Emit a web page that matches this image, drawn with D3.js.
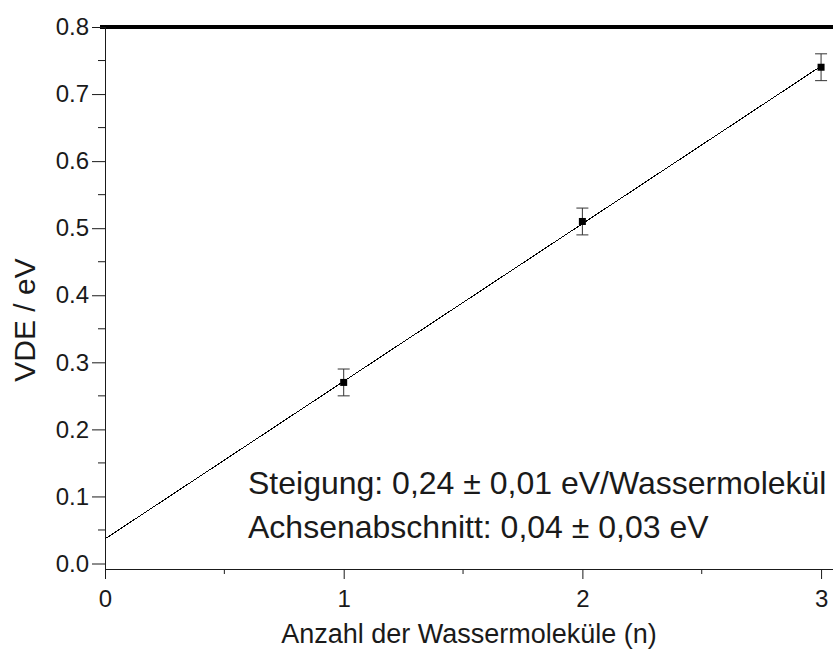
<!DOCTYPE html>
<html>
<head>
<meta charset="utf-8">
<script src="https://cdn.jsdelivr.net/npm/d3@7"></script>
<style>
  html, body { margin: 0; padding: 0; background: #fff; }
  svg { display: block; font-family: "Liberation Sans", Arial, sans-serif; }
</style>
</head>
<body>
<svg id="chart" width="833" height="651"></svg>
<script>
// Measured vertical detachment energies per number of water molecules
const waterCount = [1, 2, 3];
const vdeValues = [0.27, 0.51, 0.74];
const vdeErrors = [0.02, 0.02, 0.02];

const xTickValues = [0, 1, 2, 3];
const xMinorTicks = [0.5, 1.5, 2.5];
const yTickValues = [0, 0.1, 0.2, 0.3, 0.4, 0.5, 0.6, 0.7, 0.8];
const yMinorTicks = [0.05, 0.15, 0.25, 0.35, 0.45, 0.55, 0.65, 0.75];

const annotationLines = [
  "Steigung: 0,24 \u00b1 0,01 eV/Wassermolek\u00fcl",
  "Achsenabschnitt: 0,04 \u00b1 0,03 eV"
];
const xTitle = "Anzahl der Wassermolek\u00fcle (n)";
const yTitle = "VDE / eV";

// Least-squares fit through the measured points
const mx = d3.mean(waterCount), my = d3.mean(vdeValues);
const slope = d3.sum(waterCount, (v, i) => (v - mx) * (vdeValues[i] - my)) /
              d3.sum(waterCount, v => (v - mx) * (v - mx));
const intercept = my - slope * mx;
const fitLine = [[0, intercept], [3, intercept + slope * 3]];

const svg = d3.select("#chart");
const plotLeft = 105, plotRight = 833, plotTop = 27, plotBottom = 569;

const x = d3.scaleLinear().domain([0, 3.05]).range([plotLeft, plotRight]);
const y = d3.scaleLinear().domain([0, 0.8]).range([563.5, plotTop]);

const ink = "#1a1a1a";

// Thick frame line along the top
svg.append("line")
  .attr("x1", plotLeft - 5).attr("x2", plotRight)
  .attr("y1", y(0.8)).attr("y2", y(0.8))
  .attr("stroke", "#000").attr("stroke-width", 4);

// X axis
const xAxis = svg.append("g").attr("transform", `translate(0,${plotBottom})`);
xAxis.call(d3.axisBottom(x).tickValues(xTickValues).tickFormat(d3.format("d"))
  .tickSize(10).tickPadding(11).tickSizeOuter(0));
xAxis.append("g").selectAll("line").data(xMinorTicks).join("line")
  .attr("x1", d => x(d)).attr("x2", d => x(d)).attr("y1", 0).attr("y2", 5)
  .attr("stroke", ink);
xAxis.select(".domain").attr("d", `M${plotLeft},0.5H${plotRight}`);

// Y axis
const yAxis = svg.append("g").attr("transform", `translate(${plotLeft},0)`);
yAxis.call(d3.axisLeft(y).tickValues(yTickValues).tickFormat(d3.format(".1f"))
  .tickSize(13).tickPadding(3).tickSizeOuter(0));
yAxis.append("g").selectAll("line").data(yMinorTicks).join("line")
  .attr("x1", -7).attr("x2", 0).attr("y1", d => y(d)).attr("y2", d => y(d))
  .attr("stroke", ink);
yAxis.select(".domain").attr("d", `M0.5,${plotTop}V${plotBottom + 10}`);

svg.selectAll(".tick text").attr("font-size", 24).attr("fill", ink)
  .attr("font-family", "Liberation Sans, Arial, sans-serif");
svg.selectAll(".tick line, .domain").attr("stroke", ink);

// Fitted line
svg.append("path")
  .datum(fitLine)
  .attr("d", d3.line().x(d => x(d[0])).y(d => y(d[1])))
  .attr("fill", "none").attr("stroke", "#000").attr("stroke-width", 1)
  .attr("shape-rendering", "crispEdges");

// Error bars
const eb = svg.append("g").attr("stroke", "#333").attr("stroke-width", 1);
waterCount.forEach((w, i) => {
  const cx = x(w), y0 = y(vdeValues[i] - vdeErrors[i]), y1 = y(vdeValues[i] + vdeErrors[i]);
  eb.append("line").attr("x1", cx).attr("x2", cx).attr("y1", y0).attr("y2", y1);
  eb.append("line").attr("x1", cx - 6).attr("x2", cx + 6).attr("y1", y0).attr("y2", y0);
  eb.append("line").attr("x1", cx - 6).attr("x2", cx + 6).attr("y1", y1).attr("y2", y1);
});

// Data markers
svg.append("g").selectAll("rect").data(waterCount).join("rect")
  .attr("x", d => x(d) - 3.5)
  .attr("y", (d, i) => y(vdeValues[i]) - 3.5)
  .attr("width", 7).attr("height", 7)
  .attr("fill", "#000");

// Fit annotation
svg.append("g").selectAll("text").data(annotationLines).join("text")
  .attr("x", 248)
  .attr("y", (d, i) => 494 + i * 44)
  .attr("font-size", 32)
  .attr("fill", ink)
  .text(d => d);

// Axis titles
svg.append("text")
  .attr("x", (plotLeft + plotRight) / 2).attr("y", 643)
  .attr("text-anchor", "middle")
  .attr("font-size", 27).attr("fill", ink)
  .text(xTitle);

svg.append("text")
  .attr("transform", "translate(35,320) rotate(-90)")
  .attr("text-anchor", "middle")
  .attr("font-size", 30).attr("fill", ink)
  .text(yTitle);
</script>
</body>
</html>
